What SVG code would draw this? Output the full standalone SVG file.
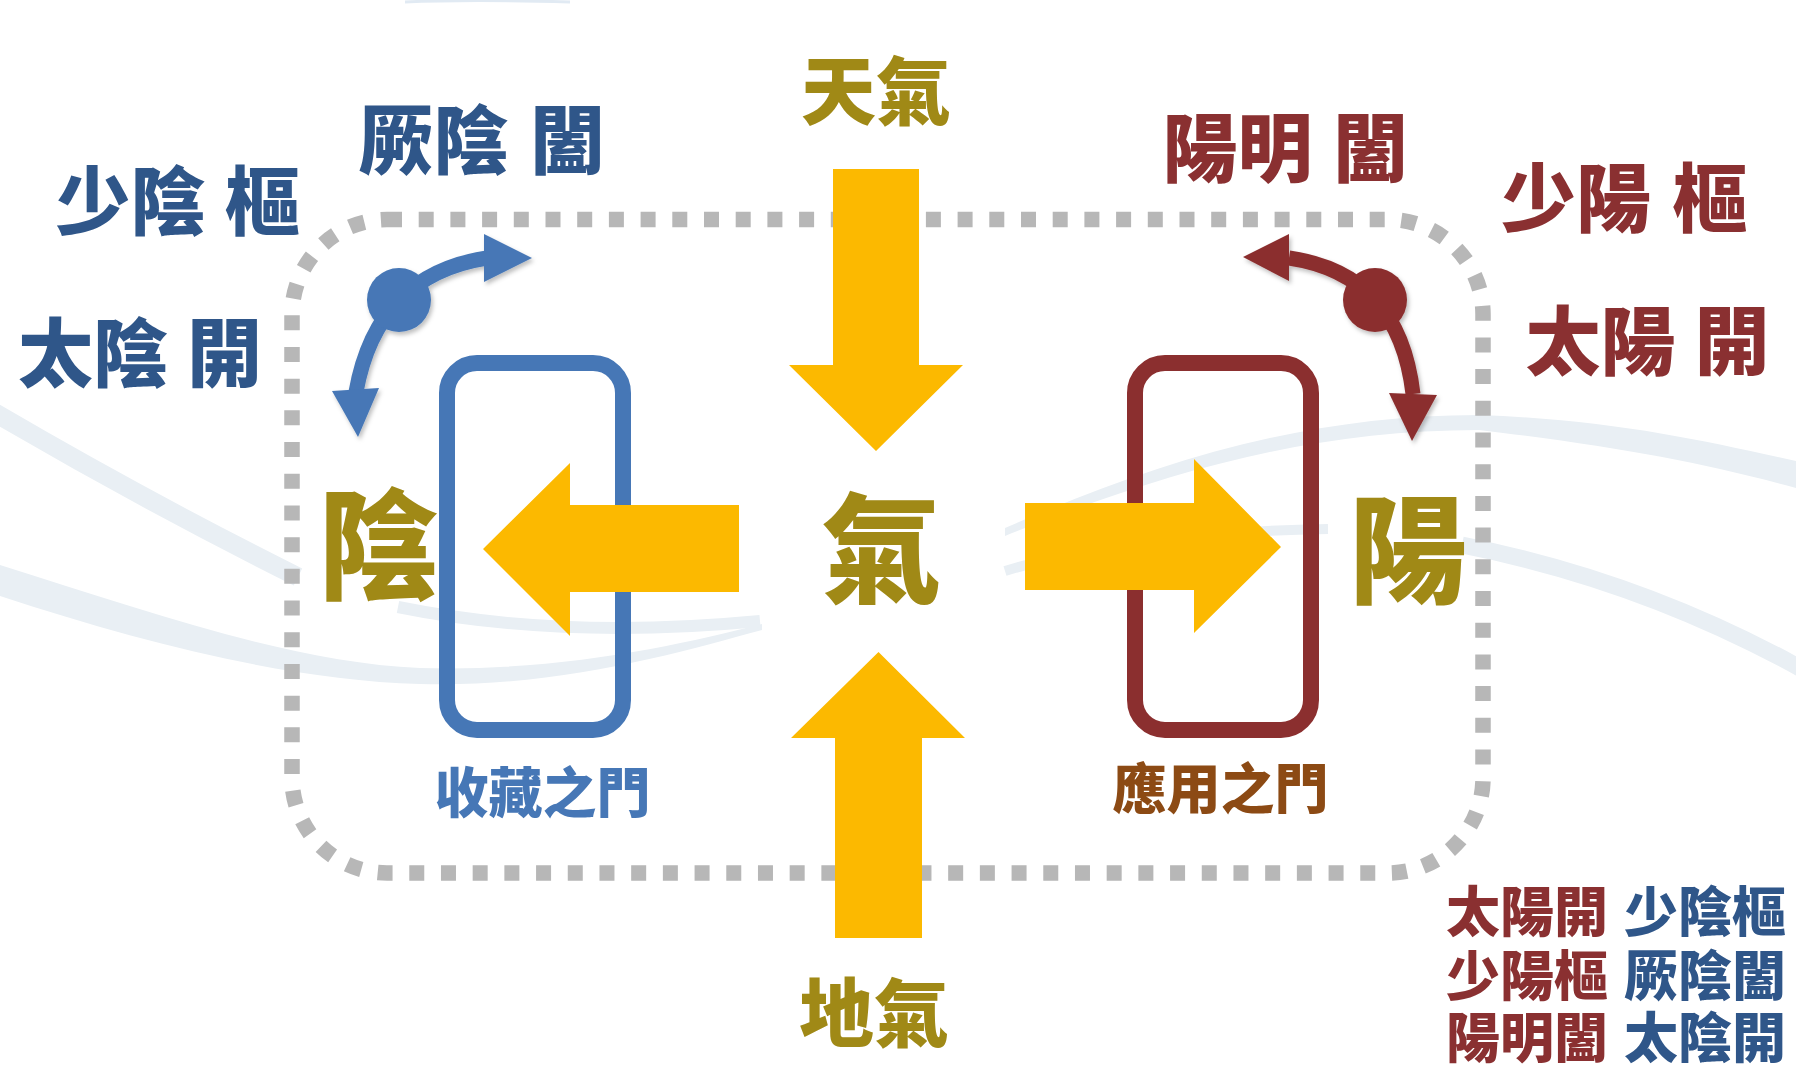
<svg xmlns="http://www.w3.org/2000/svg" width="1796" height="1083" viewBox="0 0 1796 1083">
<defs>
<style>
.t{font-family:"Liberation Sans","Noto Sans CJK TC","Noto Sans CJK SC",sans-serif;font-weight:900;text-anchor:middle}
.olive{fill:#A08916}
.dblue{fill:#2F5689}
.dred{fill:#8A3031}
.bg{fill:none;stroke:#E9EFF4;stroke-linecap:butt}
.yarrow{fill:#FCB900}
</style>
<filter id="sh" x="-20%" y="-20%" width="140%" height="140%">
<feDropShadow dx="2" dy="3" stdDeviation="2" flood-color="#000" flood-opacity="0.25"/>
</filter>
</defs>
<rect width="1796" height="1083" fill="#fff"/>
<g id="background">
<path class="bg" d="M-10,410 Q140,498 298,577" stroke-width="19"/>
<path d="M0,565 C150,612 290,662 420,668 C560,672 680,645 762,624 L762,630 C680,652 560,688 420,684 C290,680 150,645 0,596 Z" fill="#E9EFF4"/>
<path class="bg" d="M398,607 Q560,640 760,621" stroke-width="12"/>
<path d="M1005,528 C1150,465 1300,415 1479,415 C1613,420 1700,440 1796,461 L1796,488 C1700,462 1613,446 1479,430 C1300,430 1150,478 1005,536 Z" fill="#E9EFF4"/>
<path class="bg" d="M1005,571 Q1130,532 1328,529" stroke-width="10"/>
<path class="bg" d="M1462,545 Q1640,580 1800,668" stroke-width="17"/>
<path d="M405,2 Q470,-1 570,2" fill="none" stroke="#E1EAF3" stroke-width="3"/>
</g>
<g id="frame">
<rect x="292" y="219.5" width="1191" height="653.5" rx="95" fill="none" stroke="#B7B7B7" stroke-width="15.5" stroke-dasharray="15 16.7"/>
</g>
<g id="gate-yin">
<rect x="447" y="363" width="176" height="367" rx="30" fill="none" stroke="#4677B6" stroke-width="16"/>
<text class="t" x="542.5" y="813" font-size="54" fill="#4677B6">收藏之門</text>
</g>
<g id="gate-yang">
<rect x="1135" y="363" width="176" height="367" rx="30" fill="none" stroke="#8B2F2F" stroke-width="16"/>
<text class="t" x="1220.5" y="809" font-size="54" fill="#8C4A14">應用之門</text>
</g>
<g id="connectors">
<polygon class="yarrow" points="833,169 919,169 919,365 963,365 876,451 789,365 833,365"/>
<polygon class="yarrow" points="835,938 922,938 922,738 965,738 878.5,652 791,738 835,738"/>
<polygon class="yarrow" points="739,505 739,592 570,592 570,636 483,549 570,463 570,505"/>
<polygon class="yarrow" points="1025,503 1194,503 1194,459 1281,547 1194,633 1194,590 1025,590"/>
<g filter="url(#sh)" fill="#4677B6">
<path d="M356,392 Q377,275 487,258" fill="none" stroke="#4677B6" stroke-width="15"/>
<circle cx="399" cy="300" r="32"/>
<polygon points="484,234 532,258 484,282"/>
<polygon points="332,391 379,388 358,437"/>
</g>
<g filter="url(#sh)" fill="#8B2F2F">
<path d="M1289,258 Q1399,274 1413,394" fill="none" stroke="#8B2F2F" stroke-width="15"/>
<circle cx="1375" cy="300" r="32"/>
<polygon points="1289,234 1243,257 1289,281"/>
<polygon points="1389,393 1437,395 1412,441"/>
</g>
</g>
<g id="qi-heaven"><text class="t olive" x="876" y="119" font-size="75">天氣</text></g>
<g id="qi-earth"><text class="t olive" x="874" y="1041" font-size="75">地氣</text></g>
<g id="qi"><text class="t olive" x="881.5" y="594" font-size="120">氣</text></g>
<g id="yin"><text class="t olive" x="378.5" y="590" font-size="120">陰</text></g>
<g id="yang"><text class="t olive" x="1408" y="594" font-size="118">陽</text></g>
<g id="jueyin"><text class="t dblue" font-size="75" y="168"><tspan x="433.5">厥陰</tspan><tspan x="567.5">闔</tspan></text></g>
<g id="shaoyin"><text class="t dblue" font-size="75" y="229"><tspan x="130.5">少陰</tspan><tspan x="262.5">樞</tspan></text></g>
<g id="taiyin"><text class="t dblue" font-size="75" y="381"><tspan x="93">太陰</tspan><tspan x="224.5">開</tspan></text></g>
<g id="yangming"><text class="t dred" font-size="75" y="176"><tspan x="1237.5">陽明</tspan><tspan x="1370.5">闔</tspan></text></g>
<g id="shaoyang"><text class="t dred" font-size="75" y="226"><tspan x="1576">少陽</tspan><tspan x="1710">樞</tspan></text></g>
<g id="taiyang"><text class="t dred" font-size="75" y="369"><tspan x="1600.5">太陽</tspan><tspan x="1732">開</tspan></text></g>
<g id="legend">
<text class="t" font-size="54"><tspan class="dred" x="1527" y="932">太陽開</tspan><tspan class="dblue" x="1705" y="932">少陰樞</tspan><tspan class="dred" x="1527" y="996">少陽樞</tspan><tspan class="dblue" x="1705" y="996">厥陰闔</tspan><tspan class="dred" x="1527" y="1058">陽明闔</tspan><tspan class="dblue" x="1705" y="1058">太陰開</tspan></text>
</g>
</svg>
